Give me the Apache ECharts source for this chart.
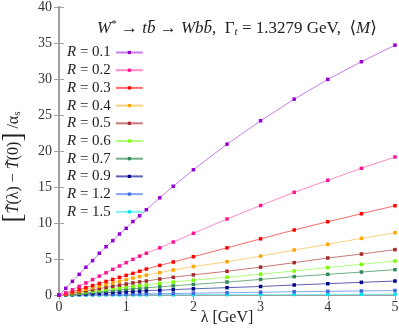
<!DOCTYPE html>
<html><head><meta charset="utf-8">
<script src="https://cdn.jsdelivr.net/npm/echarts@6/dist/echarts.min.js"></script>
<style>html,body{margin:0;padding:0;background:#fff}#c{width:399px;height:329px}</style>
</head><body><div id="c"></div>
<script>
const lambdas = [0,0.1,0.2,0.3,0.4,0.5,0.6,0.7,0.8,0.9,1.0,1.1,1.2,1.3,1.5,1.7,2,2.5,3,3.5,4,4.5,5];
const labelsR = ['0.1','0.2','0.3','0.4','0.5','0.6','0.7','0.9','1.2','1.5'];
const r01 = [0,0.93,1.9,2.87,3.85,4.77,5.8,6.7,7.55,8.47,9.26,10.2,11.0,11.85,13.5,15.1,17.4,20.95,24.2,27.2,29.95,32.4,34.7];
const r02 = [0,0.3,0.72,1.2,1.67,2.13,2.62,3.08,3.56,4.03,4.49,4.95,5.4,5.8,6.55,7.36,8.57,10.56,12.43,14.26,15.93,17.6,19.17];
const r03 = [0,0.18,0.45,0.74,1.03,1.31,1.6,1.88,2.17,2.45,2.73,3.01,3.29,3.61,4.12,4.58,5.32,6.55,7.8,9.03,10.18,11.29,12.4];
const r04 = [0,0.14,0.34,0.57,0.79,1.01,1.24,1.46,1.69,1.91,2.13,2.35,2.56,2.75,3.1,3.47,3.95,4.62,5.4,6.25,7.04,7.87,8.66];
const r05 = [0,0.1,0.25,0.41,0.57,0.72,0.89,1.05,1.21,1.37,1.52,1.68,1.82,1.94,2.22,2.46,2.8,3.3,3.87,4.49,5.14,5.69,6.3];
const r06 = [0,0.07,0.18,0.29,0.41,0.52,0.64,0.75,0.87,0.98,1.1,1.21,1.31,1.4,1.62,1.8,2.06,2.46,2.89,3.33,3.8,4.26,4.72];
const r07 = [0,0.05,0.13,0.21,0.29,0.37,0.46,0.54,0.62,0.7,0.78,0.86,0.93,1.0,1.14,1.27,1.47,1.8,2.16,2.55,2.87,3.19,3.52];
const r09 = [0,0.03,0.07,0.12,0.17,0.22,0.27,0.32,0.37,0.41,0.46,0.5,0.55,0.6,0.67,0.74,0.86,1.02,1.18,1.39,1.57,1.76,1.94];
const r12 = [0,0.01,0.02,0.04,0.05,0.06,0.08,0.09,0.1,0.12,0.13,0.14,0.15,0.17,0.19,0.21,0.25,0.31,0.38,0.45,0.51,0.56,0.62];
const r15 = [0,0.003,0.005,0.008,0.01,0.012,0.015,0.017,0.02,0.022,0.025,0.027,0.03,0.032,0.036,0.04,0.045,0.055,0.065,0.075,0.085,0.095,0.1];
const allValues = [r01,r02,r03,r04,r05,r06,r07,r09,r12,r15];
const pointColors = ['#9400d3','#ff1493','#ff0000','#ffa500','#a52a2a','#7cfc00','#2e8b57','#00008b','#4169e1','#00e5ee'];
const lineColors  = ['#c77cf0','#ff8cc6','#ff6a6a','#ffcf80','#c87878','#b0ff80','#6fae88','#6060b8','#88a4f0','#7ff2f2'];

const FONT = "'Liberation Serif', 'DejaVu Serif', serif";
const chart = echarts.init(document.getElementById('c'), null, {renderer:'canvas'});
const series = allValues.map((vals, i) => ({
  name: 'R' + labelsR[i],
  type: 'line',
  data: lambdas.map((x, j) => [x, vals[j]]),
  symbol: 'rect',
  symbolSize: 3.5,
  showSymbol: true,
  lineStyle: {width: 1, color: lineColors[i]},
  itemStyle: {color: pointColors[i]},
  emphasis: {disabled: true},
  animation: false,
  z: 20 - i
}));
const axisGray = '#a0a0a0';
chart.setOption({
  animation: false,
  textStyle: {fontFamily: FONT},
  grid: {left: 59, right: 4, top: 7, bottom: 34, containLabel: false, outerBoundsMode: 'none'},
  title: {
    text: '{i|W}{sup|*} → {i|t}{i|b̄} → {i|Wb}{i|b̄},  Γ{sub|t} = 1.3279 GeV,  ⟨{i|M}⟩',
    left: 92, top: 14,
    textStyle: {
      fontFamily: FONT, fontSize: 17, fontWeight: 'normal', color: '#222',
      rich: {
        i: {fontFamily: FONT, fontStyle: 'italic', fontSize: 17, color: '#222'},
        sup: {fontFamily: FONT, fontSize: 11, color: '#222', verticalAlign: 'top', padding: [0,0,8,0]},
        sub: {fontFamily: FONT, fontStyle: 'italic', fontSize: 11, color: '#222', padding: [8,0,0,0]}
      }
    }
  },
  legend: {
    orient: 'vertical', left: 62, top: 39,
    align: 'right',
    itemWidth: 27, itemHeight: 4, itemGap: 0.7,
    data: series.map(s => s.name),
    formatter: function (name) { return '{i|R} = ' + name.slice(1); },
    textStyle: {
      fontFamily: FONT, fontSize: 15, color: '#222', lineHeight: 17,
      rich: {i: {fontFamily: FONT, fontStyle: 'italic', fontSize: 15, color: '#222', lineHeight: 17}}
    }
  },
  xAxis: [{
    type: 'value', min: 0, max: 5, interval: 1,
    name: 'λ [GeV]', nameLocation: 'middle', nameGap: 15, nameMoveOverlap: false,
    nameTextStyle: {fontFamily: FONT, fontSize: 16, color: '#222', verticalAlign: 'top'},
    axisLine: {lineStyle: {color: axisGray, width: 2}},
    axisTick: {inside: true, length: 5, lineStyle: {color: axisGray}},
    axisLabel: {fontFamily: FONT, fontSize: 14, color: '#333', margin: 5},
    splitLine: {show: false}
  }, {
    type: 'value', min: 0, max: 5, interval: 1, position: 'top',
    axisLine: {show: true, lineStyle: {color: axisGray, width: 2}},
    axisTick: {inside: true, length: 5, lineStyle: {color: axisGray}},
    axisLabel: {show: false}, splitLine: {show: false}
  }],
  yAxis: [{
    type: 'value', min: 0, max: 40, interval: 5,
    axisLine: {show: true, lineStyle: {color: axisGray, width: 2}},
    axisTick: {show: true, inside: true, length: 5, lineStyle: {color: axisGray}},
    axisLabel: {fontFamily: FONT, fontSize: 14, color: '#333', margin: 7},
    splitLine: {show: false}
  }, {
    type: 'value', min: 0, max: 40, interval: 5, position: 'right',
    axisLine: {show: true, lineStyle: {color: axisGray, width: 2}},
    axisTick: {show: true, inside: true, length: 5, lineStyle: {color: axisGray}},
    axisLabel: {show: false}, splitLine: {show: false}
  }],
  graphic: [{
    type: 'text', x: 14, y: 167, rotation: Math.PI / 2,
    style: {
      text: '{b|[}{i|T̃}(λ) − {i|T̃}(0){b|]} /α{s|s}',
      align: 'center', verticalAlign: 'middle',
      fontFamily: FONT, fontSize: 16, fill: '#222',
      rich: {
        i: {fontFamily: FONT, fontStyle: 'italic', fontSize: 16},
        b: {fontFamily: FONT, fontSize: 27},
        s: {fontFamily: FONT, fontSize: 11, padding: [7,0,0,0]}
      }
    }
  }],
  series: series
});
</script></body></html>
